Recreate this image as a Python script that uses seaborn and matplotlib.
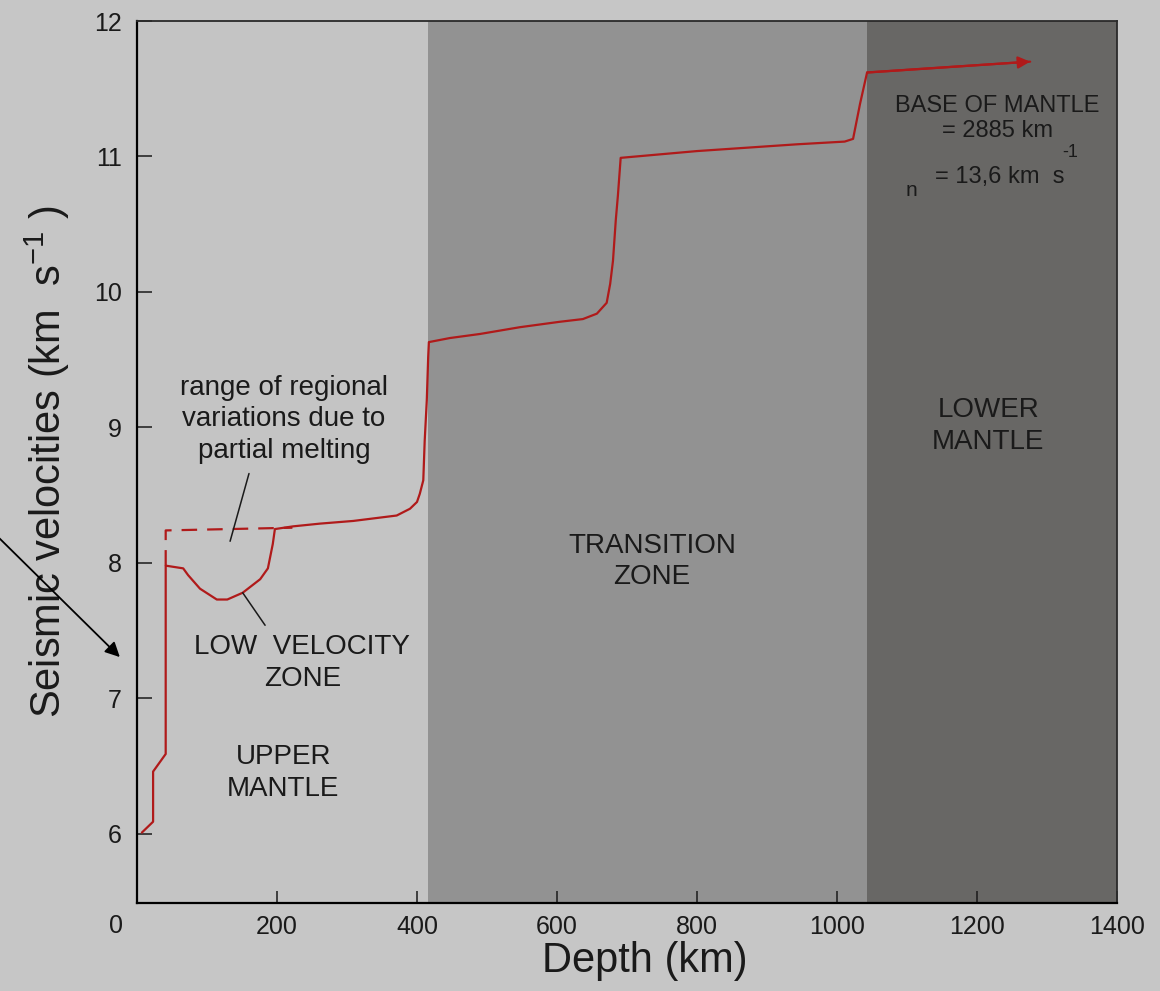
import matplotlib
matplotlib.use("Agg")
import matplotlib.pyplot as plt
import seaborn as sns

# Velocity profile
depth_km = [7, 23, 23, 41, 41, 66, 73, 90, 114, 129, 151, 176, 187, 194, 197,
            223, 261, 309, 371, 390, 400, 404, 409, 411, 414, 416, 417, 447, 490,
            547, 604, 637, 657, 671, 676, 680, 684, 687, 691, 800, 943, 1011,
            1023, 1033, 1043, 1276]
velocity = [6.01, 6.09, 6.46, 6.59, 7.98, 7.96, 7.91, 7.81, 7.73, 7.73, 7.78,
            7.88, 7.96, 8.14, 8.25, 8.27, 8.29, 8.31, 8.35, 8.40, 8.45, 8.51,
            8.61, 8.90, 9.20, 9.52, 9.63, 9.66, 9.69, 9.74, 9.78, 9.80, 9.84,
            9.92, 10.06, 10.23, 10.53, 10.71, 10.99, 11.04, 11.09, 11.11, 11.13,
            11.39, 11.62, 11.70]

# dashed upper bound of the low velocity zone
range_depth = [41, 41, 222]
range_velocity = [7.98, 8.24, 8.26]

# zones
zone_edges = [0, 416, 1043, 1400]
zone_colors = ["#c4c4c4", "#929292", "#686765"]

xticks = [0, 200, 400, 600, 800, 1000, 1200, 1400]
yticks = [6, 7, 8, 9, 10, 11, 12]

red = "#b01a1a"
ink = "#1a1a1a"

sns.set_style("ticks")
plt.rcParams["font.family"] = ["Liberation Sans", "DejaVu Sans"]
plt.rcParams["mathtext.fontset"] = "custom"
plt.rcParams["mathtext.rm"] = "Liberation Sans"
plt.rcParams["mathtext.it"] = "Liberation Sans"

fig = plt.figure(figsize=(11.6, 9.91), dpi=100, facecolor="#c6c6c6")
ax = fig.add_axes([0.1181, 0.0888, 0.8448, 0.89])
ax.set_facecolor("#c4c4c4")

for i in range(len(zone_colors)):
    ax.axvspan(zone_edges[i], zone_edges[i + 1], color=zone_colors[i], lw=0, zorder=0)

sns.lineplot(x=depth_km, y=velocity, sort=False, estimator=None, color=red,
             lw=1.6, ax=ax, zorder=3)
sns.lineplot(x=range_depth, y=range_velocity, sort=False, estimator=None,
             color=red, lw=1.6, ax=ax, zorder=3, dashes=False)
ax.lines[-1].set_dashes((7, 4.5))

# arrow head at end of the profile
ax.annotate("", xy=(depth_km[-1], velocity[-1]), xytext=(depth_km[-2], velocity[-2]),
            arrowprops=dict(arrowstyle="-|>", color=red, lw=1.6, mutation_scale=18,
                            shrinkA=0, shrinkB=0), zorder=4)

ax.set_xlim(0, 1400)
ax.set_ylim(5.49, 12)
ax.set_xticks(xticks)
ax.set_xticklabels([""] + [str(t) for t in xticks[1:]])
ax.set_yticks(yticks)
ax.tick_params(axis="x", direction="in", length=9, width=1.1, pad=9,
               labelsize=18, colors=ink)
ax.tick_params(axis="y", direction="in", length=11, width=1.1, pad=11,
               labelsize=18, colors=ink)
ax.text(-0.021, -0.013, "0", transform=ax.transAxes, ha="center", va="top",
        fontsize=18, color=ink)

for side in ["left", "bottom"]:
    ax.spines[side].set_color("#000000")
    ax.spines[side].set_linewidth(1.6)
for side in ["top", "right"]:
    ax.spines[side].set_color("#2a2a2a")
    ax.spines[side].set_linewidth(1.3)

ax.set_xlabel("Depth (km)", fontsize=30, color=ink)
ax.xaxis.set_label_coords(0.518, -0.043)
ax.set_ylabel(r"Seismic velocities (km  s$^{\mathrm{-1}}$ )", fontsize=30, color=ink)
ax.yaxis.set_label_coords(-0.066, 0.5)

txt = dict(ha="center", va="center", fontsize=20, color=ink, linespacing=1.28)
ax.text(210, 9.06, "range of regional\nvariations due to\npartial melting", **txt)
ax.text(236, 7.26, "LOW  VELOCITY\nZONE", **txt)
ax.text(209, 6.45, "UPPER\nMANTLE", **txt)
ax.text(736, 8.01, "TRANSITION\nZONE", **txt)
ax.text(1216, 9.01, "LOWER\nMANTLE", **txt)

ax.text(1229, 11.28, "BASE OF MANTLE\n= 2885 km", ha="center", va="center",
        fontsize=17, color=ink, linespacing=1.22)
ax.text(1233, 10.85, "= 13,6 km  s", ha="center", va="center", fontsize=17, color=ink)
ax.text(1107, 10.75, "n", ha="center", va="center", fontsize=15, color=ink)
ax.text(1333, 11.03, "-1", ha="center", va="center", fontsize=13, color=ink)

# leader lines
ax.plot([160, 133], [8.66, 8.16], color=ink, lw=1.1, zorder=4)
ax.plot([151, 183], [7.78, 7.54], color=ink, lw=1.1, zorder=4)

# black arrow coming from the left edge
fig.patches.append(matplotlib.patches.FancyArrowPatch(
    (-0.005, 0.462), (0.105, 0.335), transform=fig.transFigure,
    arrowstyle="-|>", mutation_scale=22, color="#000000", lw=1.3))

fig.savefig("out.png", dpi=100, facecolor=fig.get_facecolor())
